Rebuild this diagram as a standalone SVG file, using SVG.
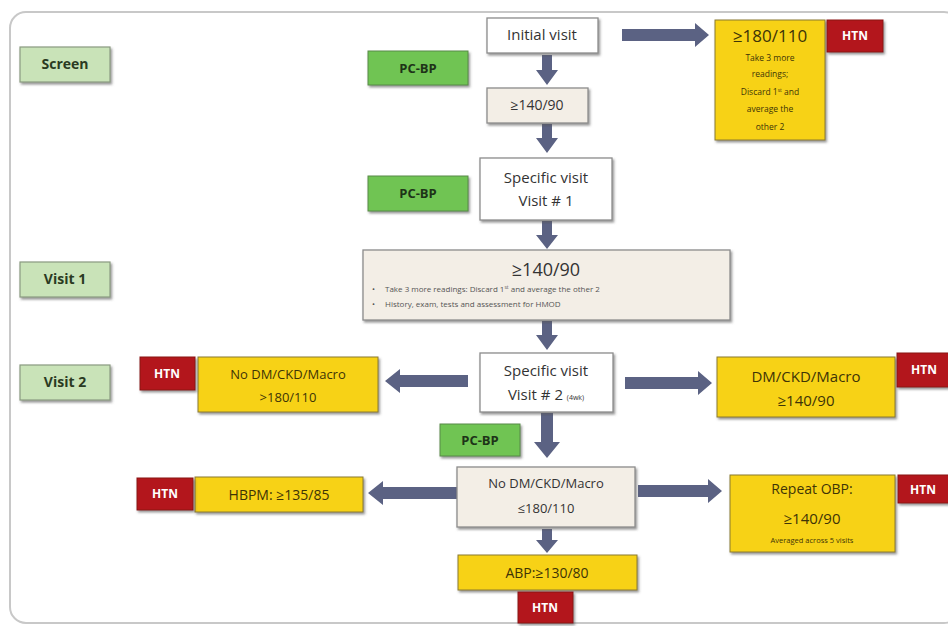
<svg xmlns="http://www.w3.org/2000/svg" width="948" height="626" viewBox="0 0 948 626">
<defs>
<filter id="sh" x="-10%" y="-10%" width="130%" height="140%">
<feDropShadow dx="1.5" dy="2" stdDeviation="1.2" flood-color="#555" flood-opacity="0.6"/>
</filter>
<style>
text{font-family:"Open Sans","Liberation Sans",sans-serif;text-anchor:middle}
.lab{fill:#c9e3b8;stroke:#8a9a80;stroke-width:1.2}
.grn{fill:#6fc452;stroke:#5a8a48;stroke-width:1}
.wht{fill:#ffffff;stroke:#8c8c8c;stroke-width:1.3}
.bei{fill:#f3eee6;stroke:#8c8c8c;stroke-width:1.3}
.yel{fill:#f7d218;stroke:#8a7a30;stroke-width:1}
.red{fill:#b3141c;stroke:#8a1015;stroke-width:1}
.lt{font-size:14px;font-weight:bold;fill:#2a3a22}
.gt{font-size:13px;font-weight:bold;fill:#1e3318}
.ht{font-size:12px;font-weight:bold;fill:#ffffff}
.bt{font-size:14px;fill:#333333}
.yt{fill:#3e3406}
.arr{fill:#5b6283}
</style>
</defs>
<rect x="10" y="12" width="950" height="611" rx="16" fill="#ffffff" stroke="#c8c8c8" stroke-width="2"/>

<g id="connectors">
<polygon class="arr" points="542,55 552,55 552,70 558,70 547,85 536,70 542,70"/>
<polygon class="arr" points="542,124 552,124 552,138 558,138 547,153 536,138 542,138"/>
<polygon class="arr" points="542,221 552,221 552,235 558,235 547,249 536,235 542,235"/>
<polygon class="arr" points="542,321 552,321 552,335 558,335 547,350 536,335 542,335"/>
<polygon class="arr" points="541,413 553,413 553,442 560,442 547,458 534,442 541,442"/>
<polygon class="arr" points="542,529 552,529 552,540 558,540 547,553 536,540 542,540"/>
<polygon class="arr" points="622,29 695,29 695,23 709,35 695,47 695,41 622,41"/>
<polygon class="arr" points="468,375 400,375 400,369 385,381 400,393 400,387 468,387"/>
<polygon class="arr" points="625,377 698,377 698,371 712,383 698,395 698,389 625,389"/>
<polygon class="arr" points="457,487 383,487 383,481 368,493 383,505 383,499 457,499"/>
<polygon class="arr" points="638,485 708,485 708,479 722,491 708,503 708,497 638,497"/>
</g>

<g id="screen"><rect class="lab" x="20" y="47" width="90" height="35" filter="url(#sh)"/><text class="lt" x="65" y="69">Screen</text></g>
<g id="visit1"><rect class="lab" x="20" y="262" width="90" height="35" filter="url(#sh)"/><text class="lt" x="65" y="284">Visit 1</text></g>
<g id="visit2"><rect class="lab" x="20" y="365" width="90" height="35" filter="url(#sh)"/><text class="lt" x="65" y="387">Visit 2</text></g>

<g id="pcbp1"><rect class="grn" x="368" y="51" width="100" height="34" filter="url(#sh)"/><text class="gt" x="418" y="73">PC-BP</text></g>
<g id="pcbp2"><rect class="grn" x="368" y="176" width="100" height="35" filter="url(#sh)"/><text class="gt" x="418" y="198">PC-BP</text></g>
<g id="pcbp3"><rect class="grn" x="440" y="424" width="80" height="32" filter="url(#sh)"/><text class="gt" x="480" y="445">PC-BP</text></g>

<g id="initial"><rect class="wht" x="487" y="18" width="111" height="35" filter="url(#sh)"/><text class="bt" x="542" y="40" style="font-size:15px">Initial visit</text></g>
<g id="bp1"><rect class="bei" x="487" y="88" width="101" height="35" filter="url(#sh)"/><text class="bt" x="537" y="110">≥140/90</text></g>
<g id="sv1"><rect class="wht" x="480" y="158" width="132" height="62" filter="url(#sh)"/><text class="bt" x="546" y="183" style="font-size:15px">Specific visit</text><text class="bt" x="546" y="206" style="font-size:15px">Visit # 1</text></g>

<g id="bp2"><rect class="bei" x="363" y="250" width="367" height="70" filter="url(#sh)"/>
<text class="bt" x="546" y="276" style="font-size:18px">≥140/90</text>
<text x="372" y="292" style="font-size:8px;fill:#555;text-anchor:start">•</text>
<text x="385" y="292" style="font-size:8px;fill:#555;text-anchor:start">Take 3 more readings: Discard 1<tspan dy="-3" style="font-size:5px">st</tspan><tspan dy="3"> and average the other 2</tspan></text>
<text x="372" y="307" style="font-size:8px;fill:#555;text-anchor:start">•</text>
<text x="385" y="307" style="font-size:8px;fill:#555;text-anchor:start">History, exam, tests and assessment for HMOD</text>
</g>

<g id="sv2"><rect class="wht" x="480" y="353" width="133" height="59" filter="url(#sh)"/><text class="bt" x="546" y="376" style="font-size:15px">Specific visit</text><text class="bt" x="546" y="400" style="font-size:15px">Visit # 2 <tspan style="font-size:7px">(4wk)</tspan></text></g>

<g id="nodm1"><rect class="bei" x="457" y="467" width="178" height="60" filter="url(#sh)"/><text class="bt" x="546" y="488" style="font-size:13px">No DM/CKD/Macro</text><text class="bt" x="546" y="513" style="font-size:13px">≤180/110</text></g>

<g id="y180top"><rect class="yel" x="715" y="20" width="110" height="120" filter="url(#sh)"/>
<text class="yt" x="770" y="42" style="font-size:17px">≥180/110</text>
<text class="yt" x="770" y="61" style="font-size:8.5px">Take 3 more</text>
<text class="yt" x="770" y="77" style="font-size:8.5px">readings;</text>
<text class="yt" x="770" y="95" style="font-size:8.5px">Discard 1<tspan dy="-3" style="font-size:5px">st</tspan><tspan dy="3"> and</tspan></text>
<text class="yt" x="770" y="112" style="font-size:8.5px">average the</text>
<text class="yt" x="770" y="130" style="font-size:8.5px">other 2</text>
</g>
<g id="htn1"><rect class="red" x="827" y="20" width="56" height="32" filter="url(#sh)"/><text class="ht" x="855" y="40">HTN</text></g>

<g id="nodm180"><rect class="yel" x="198" y="357" width="180" height="55" filter="url(#sh)"/><text class="yt" x="288" y="379" style="font-size:13px">No DM/CKD/Macro</text><text class="yt" x="288" y="402" style="font-size:13px">&gt;180/110</text></g>
<g id="htn2"><rect class="red" x="140" y="357" width="55" height="33" filter="url(#sh)"/><text class="ht" x="167" y="378">HTN</text></g>

<g id="dm140"><rect class="yel" x="717" y="357" width="178" height="60" filter="url(#sh)"/><text class="yt" x="806" y="382" style="font-size:15px">DM/CKD/Macro</text><text class="yt" x="806" y="406" style="font-size:15px">≥140/90</text></g>
<g id="htn3"><rect class="red" x="897" y="353" width="55" height="34" filter="url(#sh)"/><text class="ht" x="924" y="374">HTN</text></g>

<g id="hbpm"><rect class="yel" x="195" y="477" width="168" height="35" filter="url(#sh)"/><text class="yt" x="279" y="500" style="font-size:14px">HBPM: ≥135/85</text></g>
<g id="htn4"><rect class="red" x="137" y="478" width="56" height="32" filter="url(#sh)"/><text class="ht" x="165" y="498">HTN</text></g>

<g id="obp"><rect class="yel" x="730" y="475" width="165" height="77" filter="url(#sh)"/><text class="yt" x="812" y="494" style="font-size:14px">Repeat OBP:</text><text class="yt" x="812" y="524" style="font-size:15px">≥140/90</text><text class="yt" x="812" y="543" style="font-size:7.5px">Averaged across 5 visits</text></g>
<g id="htn5"><rect class="red" x="898" y="475" width="55" height="28" filter="url(#sh)"/><text class="ht" x="923" y="494">HTN</text></g>

<g id="abp"><rect class="yel" x="458" y="555" width="179" height="35" filter="url(#sh)"/><text class="yt" x="547" y="578" style="font-size:14px">ABP:≥130/80</text></g>
<g id="htn6"><rect class="red" x="518" y="592" width="55" height="31" filter="url(#sh)"/><text class="ht" x="545" y="612">HTN</text></g>
</svg>
